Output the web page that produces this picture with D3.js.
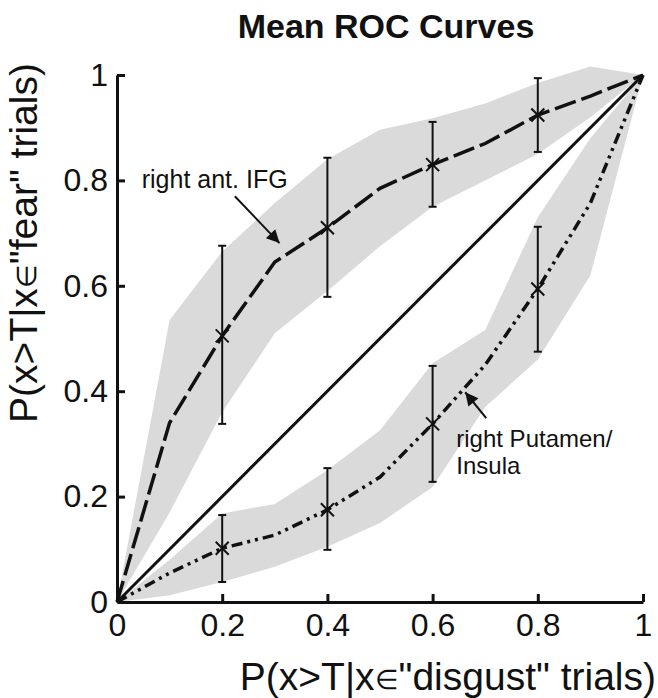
<!DOCTYPE html>
<html>
<head>
<meta charset="utf-8">
<script src="https://cdn.jsdelivr.net/npm/d3@7"></script>
<style>
  body { margin: 0; background: #fff; }
  text { font-family: "Liberation Sans", Arial, sans-serif; fill: #111; }
</style>
</head>
<body>
<svg id="chart"></svg>
<script>
// false positive rate (x) grid
const fpr = [0, 0.1, 0.2, 0.3, 0.4, 0.5, 0.6, 0.7, 0.8, 0.9, 1];
// right ant. IFG
const ifgMean  = [0, 0.34, 0.505, 0.645, 0.71, 0.785, 0.83, 0.87, 0.924, 0.96, 1];
const ifgUpper = [0, 0.535, 0.665, 0.757, 0.84, 0.896, 0.918, 0.946, 0.985, 1.016, 1];
const ifgLower = [0, 0.17, 0.36, 0.51, 0.59, 0.675, 0.75, 0.8, 0.85, 0.92, 1];
// right Putamen/Insula
const putMean  = [0, 0.055, 0.102, 0.127, 0.175, 0.237, 0.338, 0.45, 0.594, 0.757, 1];
const putUpper = [0, 0.08, 0.168, 0.186, 0.25, 0.326, 0.453, 0.516, 0.73, 0.88, 1];
const putLower = [0, 0.013, 0.038, 0.067, 0.105, 0.15, 0.218, 0.37, 0.46, 0.62, 1];
// error bars
const barX = [0.2, 0.4, 0.6, 0.8];
const ifgBarHi = [0.676, 0.843, 0.911, 0.994];
const ifgBarLo = [0.338, 0.579, 0.75, 0.854];
const putBarHi = [0.165, 0.254, 0.448, 0.712];
const putBarLo = [0.038, 0.099, 0.228, 0.475];
const tickVals = [0, 0.2, 0.4, 0.6, 0.8, 1];
const tickLabels = ["0", "0.2", "0.4", "0.6", "0.8", "1"];

let width = 658, height = 698;
let svg = d3.select("#chart").attr("width", width).attr("height", height);

let xScale = d3.scaleLinear().domain([0, 1]).range([117, 643]);
let yScale = d3.scaleLinear().domain([0, 1]).range([602, 75]);

//阴影带
let area = d3.area()
  .x((d, i) => xScale(fpr[i]))
  .y0(d => yScale(d[0]))
  .y1(d => yScale(d[1]));
[[ifgLower, ifgUpper], [putLower, putUpper]].forEach(function (b) {
  svg.append("path")
    .datum(fpr.map((x, i) => [b[0][i], b[1][i]]))
    .attr("fill", "#dadada")
    .attr("d", area);
});

//对角线
svg.append("line")
  .attr("x1", xScale(0)).attr("y1", yScale(0))
  .attr("x2", xScale(1)).attr("y2", yScale(1))
  .attr("stroke", "#111").attr("stroke-width", 3);

let line = d3.line().x((d, i) => xScale(fpr[i])).y(d => yScale(d));

svg.append("path").datum(ifgMean)
  .attr("fill", "none").attr("stroke", "#111").attr("stroke-width", 3.5)
  .attr("stroke-dasharray", "22,6")
  .attr("d", line);
svg.append("path").datum(putMean)
  .attr("fill", "none").attr("stroke", "#111").attr("stroke-width", 3.5)
  .attr("stroke-dasharray", "11,5,3,5,3,5")
  .attr("d", line);

//误差线 + 叉号
function errorBars(mean, hi, lo) {
  let g = svg.append("g").attr("stroke", "#111").attr("stroke-width", 2).attr("fill", "none");
  barX.forEach(function (x, i) {
    let cx = xScale(x);
    let m = mean[fpr.indexOf(x)];
    g.append("line").attr("x1", cx).attr("x2", cx).attr("y1", yScale(hi[i])).attr("y2", yScale(lo[i]));
    g.append("line").attr("x1", cx - 4).attr("x2", cx + 4).attr("y1", yScale(hi[i])).attr("y2", yScale(hi[i]));
    g.append("line").attr("x1", cx - 4).attr("x2", cx + 4).attr("y1", yScale(lo[i])).attr("y2", yScale(lo[i]));
    let cy = yScale(m);
    g.append("path").attr("d", d3.line()([[cx - 6.5, cy - 6.5], [cx + 6.5, cy + 6.5]]));
    g.append("path").attr("d", d3.line()([[cx - 6.5, cy + 6.5], [cx + 6.5, cy - 6.5]]));
  });
}
errorBars(ifgMean, ifgBarHi, ifgBarLo);
errorBars(putMean, putBarHi, putBarLo);

//坐标轴
let xAxis = d3.axisBottom(xScale).tickValues(tickVals)
  .tickFormat((d, i) => tickLabels[i]).tickSizeInner(-8).tickSizeOuter(0).tickPadding(11);
let yAxis = d3.axisLeft(yScale).tickValues(tickVals)
  .tickFormat((d, i) => tickLabels[i]).tickSizeInner(-8).tickSizeOuter(0).tickPadding(9);

let gx = svg.append("g").attr("transform", "translate(0," + yScale(0) + ")").call(xAxis);
let gy = svg.append("g").attr("transform", "translate(" + xScale(0) + ",0)").call(yAxis);
[gx, gy].forEach(function (g) {
  g.select(".domain").attr("stroke", "#111").attr("stroke-width", 3);
  g.selectAll(".tick line").attr("stroke", "#111").attr("stroke-width", 3);
  g.selectAll(".tick text").attr("font-size", 32).attr("font-family", "Liberation Sans, Arial, sans-serif").attr("fill", "#111");
});
gx.selectAll(".tick").filter(d => d === 0).select("line").remove();
gy.selectAll(".tick").filter(d => d === 0).select("line").remove();

//标题
svg.append("text")
  .attr("x", 386).attr("y", 38)
  .attr("text-anchor", "middle")
  .attr("font-size", 34).attr("font-weight", "bold")
  .text("Mean ROC Curves");

// axis labels, with a small "element of" sign as in the original
function axisLabel(sel, which) {
  sel.append("tspan").text("P(x>T|x");
  sel.append("tspan").attr("font-size", 27).attr("dy", -1).text("\u2208");
  sel.append("tspan").attr("dy", 1).text("\"" + which + "\" trials)");
}
svg.append("text")
  .attr("x", 656).attr("y", 690)
  .attr("text-anchor", "end")
  .attr("font-size", 39)
  .call(axisLabel, "disgust");

svg.append("text")
  .attr("transform", "translate(37," + 243 + ") rotate(-90)")
  .attr("text-anchor", "middle")
  .attr("font-size", 39)
  .call(axisLabel, "fear");

//箭头注释
svg.append("defs").append("marker")
  .attr("id", "head")
  .attr("viewBox", "0 0 10 10")
  .attr("refX", 10).attr("refY", 5)
  .attr("markerUnits", "userSpaceOnUse")
  .attr("markerWidth", 16).attr("markerHeight", 13)
  .attr("orient", "auto")
  .append("path").attr("d", "M0,0L10,5L0,10Z").attr("fill", "#111");

svg.append("text")
  .attr("x", xScale(0.047)).attr("y", yScale(0.786))
  .attr("font-size", 25)
  .text("right ant. IFG");
svg.append("line")
  .attr("x1", xScale(0.224)).attr("y1", yScale(0.77))
  .attr("x2", xScale(0.309)).attr("y2", yScale(0.681))
  .attr("stroke", "#111").attr("stroke-width", 2)
  .attr("marker-end", "url(#head)");

let put = svg.append("text").attr("font-size", 24);
put.append("tspan").attr("x", xScale(0.645)).attr("y", yScale(0.294)).text("right Putamen/");
put.append("tspan").attr("x", xScale(0.645)).attr("y", yScale(0.243)).text("Insula");
svg.append("line")
  .attr("x1", xScale(0.702)).attr("y1", yScale(0.349))
  .attr("x2", xScale(0.662)).attr("y2", yScale(0.398))
  .attr("stroke", "#111").attr("stroke-width", 2)
  .attr("marker-end", "url(#head)");
</script>
</body>
</html>
